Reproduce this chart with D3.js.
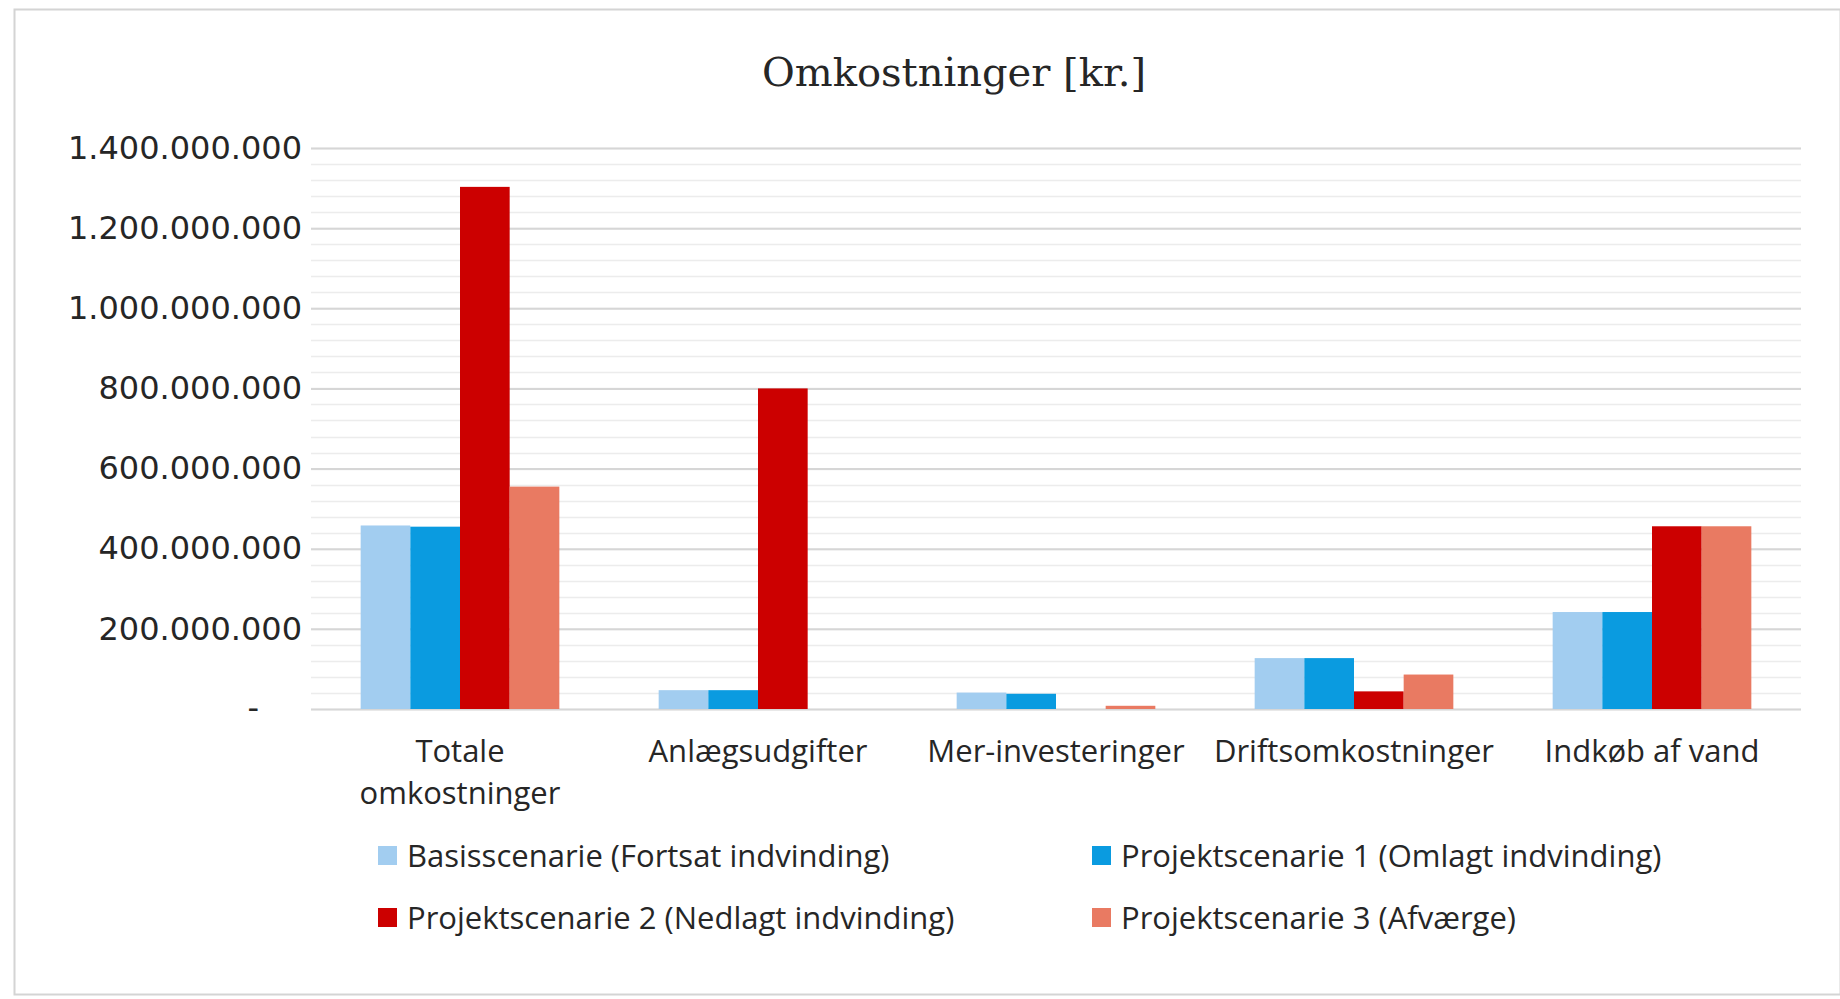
<!DOCTYPE html>
<html>
<head>
<meta charset="utf-8">
<script src="https://cdn.jsdelivr.net/npm/d3@7"></script>
<style>
  body { margin: 0; background: #fff; }
  svg { display: block; }
</style>
</head>
<body>
<svg id="chart" width="1840" height="999"></svg>
<script>
// categories and series (kr.)
var categories = ["Totale omkostninger", "Anlægsudgifter", "Mer-investeringer", "Driftsomkostninger", "Indkøb af vand"];
var categoryLines = [["Totale", "omkostninger"], ["Anlægsudgifter"], ["Mer-investeringer"], ["Driftsomkostninger"], ["Indkøb af vand"]];
var seriesNames = [
    "Basisscenarie (Fortsat indvinding)",
    "Projektscenarie 1 (Omlagt indvinding)",
    "Projektscenarie 2 (Nedlagt indvinding)",
    "Projektscenarie 3 (Afværge)"
];
var basis = [458000000, 47000000, 41000000, 127000000, 242000000];
var projekt1 = [455000000, 47000000, 38000000, 127000000, 242000000];
var projekt2 = [1303000000, 800000000, 0, 44000000, 456000000];
var projekt3 = [555000000, 0, 8000000, 86000000, 456000000];
var yTicks = [0, 200000000, 400000000, 600000000, 800000000, 1000000000, 1200000000, 1400000000];

var seriesValues = [basis, projekt1, projekt2, projekt3];
var colors = ["#a2cdf0", "#0a9be0", "#cc0000", "#e97a62"];

var svg = d3.select("#chart"),
    width = +svg.attr("width"),
    height = +svg.attr("height");

var margin = {left: 311, right: 39, top: 148, bottom: 290};
var plotW = width - margin.left - margin.right,
    plotH = height - margin.top - margin.bottom;

// chart frame
svg.append("rect")
    .attr("x", 14.5).attr("y", 9.5)
    .attr("width", width - 14).attr("height", height - 14)
    .attr("fill", "#fff")
    .attr("stroke", "#d4d4d4")
    .attr("stroke-width", 2);

var g = svg.append("g").attr("transform", "translate(" + margin.left + "," + margin.top + ")");

var x0 = d3.scaleBand().domain(categories).range([0, plotW]).paddingInner(1 / 3).paddingOuter(1 / 6);
var x1 = d3.scaleBand().domain(d3.range(seriesNames.length)).range([0, x0.bandwidth()]);
var y = d3.scaleLinear().domain([0, 1400000000]).range([plotH, 0]);

// minor grid every 40 mio
g.append("g")
    .selectAll("line")
    .data(d3.range(0, 1400000001, 40000000))
    .enter().append("line")
    .attr("x1", 0).attr("x2", plotW)
    .attr("y1", function(d) { return Math.round(y(d)) + 0.5; })
    .attr("y2", function(d) { return Math.round(y(d)) + 0.5; })
    .attr("stroke", "#ececec")
    .attr("stroke-width", 1.5);

// major grid + y labels
var yAxis = d3.axisLeft(y)
    .tickValues(yTicks)
    .tickSize(-plotW)
    .tickPadding(9)
    .tickFormat(function(d) {
        if (d === 0) return "-";
        return d3.format(",")(d).replace(/,/g, ".");
    });

var ya = g.append("g").call(yAxis);
ya.select(".domain").remove();
ya.selectAll(".tick line").attr("stroke", "#d6d6d6").attr("stroke-width", 2);
ya.selectAll(".tick text")
    .attr("font-family", "'DejaVu Sans', Verdana, sans-serif")
    .attr("font-size", 32)
    .attr("fill", "#262626");
ya.selectAll(".tick").filter(function(d) { return d === 0; })
    .select("text").attr("x", -52).attr("dy", "0.3em");

// bars
var groups = g.append("g")
    .selectAll("g")
    .data(categories)
    .enter().append("g")
    .attr("transform", function(d) { return "translate(" + x0(d) + ",0)"; });

groups.selectAll("rect")
    .data(function(d, i) { return seriesValues.map(function(s, k) { return {k: k, v: s[i]}; }); })
    .enter().append("rect")
    .attr("x", function(d) { return x1(d.k); })
    .attr("width", x1.bandwidth())
    .attr("y", function(d) { return y(d.v); })
    .attr("height", function(d) { return plotH - y(d.v); })
    .attr("fill", function(d) { return colors[d.k]; });

// category labels
var catLabels = g.append("g")
    .selectAll("text")
    .data(categories)
    .enter().append("text")
    .attr("x", function(d) { return x0(d) + x0.bandwidth() / 2; })
    .attr("y", plotH + 53)
    .attr("text-anchor", "middle")
    .attr("font-family", "'Open Sans', sans-serif")
    .attr("font-size", 31)
    .attr("fill", "#262626");

catLabels.each(function(d, i) {
    var t = d3.select(this);
    categoryLines[i].forEach(function(line, j) {
        t.append("tspan")
            .attr("x", x0(d) + x0.bandwidth() / 2)
            .attr("dy", j === 0 ? 0 : 42)
            .text(line);
    });
});

// title
svg.append("text")
    .attr("x", 954)
    .attr("y", 86)
    .attr("text-anchor", "middle")
    .attr("font-family", "'DejaVu Serif', serif")
    .attr("font-size", 40)
    .attr("fill", "#262626")
    .text("Omkostninger [kr.]");

// legend (2 x 2)
var legendPos = [[378, 867], [1092, 867], [378, 929], [1092, 929]];
var legend = svg.append("g")
    .selectAll("g")
    .data(seriesNames)
    .enter().append("g")
    .attr("transform", function(d, i) { return "translate(" + legendPos[i][0] + "," + legendPos[i][1] + ")"; });

legend.append("rect")
    .attr("x", 0).attr("y", -21)
    .attr("width", 19).attr("height", 19)
    .attr("fill", function(d, i) { return colors[i]; });

legend.append("text")
    .attr("x", 29)
    .attr("y", 0)
    .attr("font-family", "'Open Sans', sans-serif")
    .attr("font-size", 31)
    .attr("fill", "#262626")
    .text(function(d) { return d; });
</script>
</body>
</html>
